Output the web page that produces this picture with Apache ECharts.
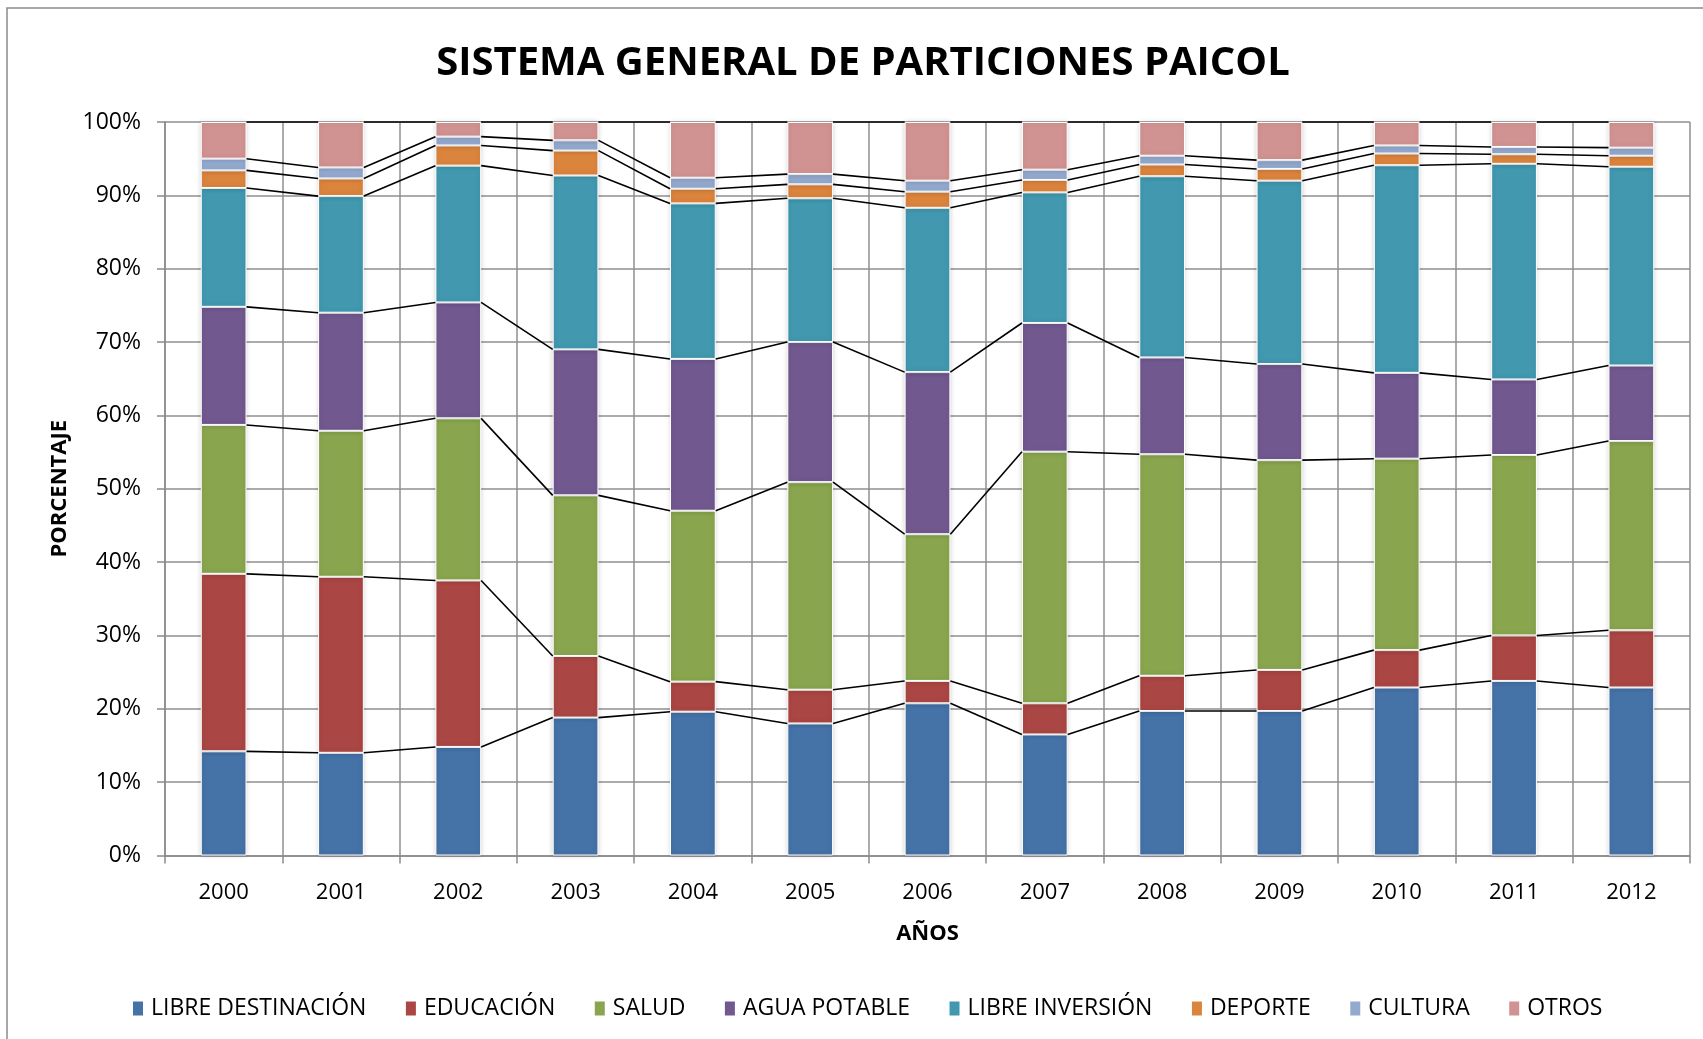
<!DOCTYPE html>
<html>
<head>
<meta charset="utf-8">
<title>Sistema General de Participaciones Paicol</title>
<script src="https://cdn.jsdelivr.net/npm/echarts@6/dist/echarts.min.js"></script>
<style>
  html, body { margin: 0; padding: 0; background: #ffffff; }
  #chart { width: 1703px; height: 1039px; }
</style>
</head>
<body>
<div id="chart"></div>
<script>
// Years on the category axis
const years = ['2000', '2001', '2002', '2003', '2004', '2005', '2006',
               '2007', '2008', '2009', '2010', '2011', '2012'];

// Share of each budget line per year (percent of the yearly total)
const libreDestinacion = [14.2, 14.0, 14.8, 18.8, 19.6, 18.0, 20.75, 16.5, 19.7, 19.7, 22.9, 23.8, 22.9];
const educacion        = [24.2, 24.0, 22.7, 8.4, 4.1, 4.6, 3.05, 4.25, 4.8, 5.6, 5.1, 6.2, 7.8];
const salud            = [20.3, 19.9, 22.1, 21.9, 23.3, 28.3, 20.0, 34.3, 30.2, 28.6, 26.1, 24.6, 25.8];
const aguaPotable      = [16.1, 16.1, 15.8, 19.9, 20.7, 19.1, 22.1, 17.55, 13.2, 13.1, 11.7, 10.3, 10.3];
const libreInversion   = [16.2, 15.9, 18.65, 23.7, 21.2, 19.6, 22.4, 17.8, 24.7, 25.0, 28.3, 29.4, 27.1];
const deporte          = [2.4, 2.4, 2.75, 3.4, 2.0, 1.9, 2.2, 1.7, 1.6, 1.6, 1.6, 1.3, 1.5];
const cultura          = [1.6, 1.5, 1.2, 1.4, 1.5, 1.4, 1.5, 1.4, 1.2, 1.2, 1.1, 1.0, 1.1];
const otros            = [5.0, 6.2, 2.0, 2.5, 7.6, 7.1, 8.0, 6.5, 4.6, 5.2, 3.2, 3.4, 3.5];

// Series names in stacking order (bottom to top)
const seriesNames = ['LIBRE DESTINACIÓN', 'EDUCACIÓN', 'SALUD', 'AGUA POTABLE',
                     'LIBRE INVERSIÓN', 'DEPORTE', 'CULTURA', 'OTROS'];

// Y axis tick labels
const yTicks = [0, 10, 20, 30, 40, 50, 60, 70, 80, 90, 100];

const seriesValues = [libreDestinacion, educacion, salud, aguaPotable,
                      libreInversion, deporte, cultura, otros];
const colors = ['#4572A7', '#AA4643', '#89A54E', '#71588F',
                '#4198AF', '#DB843D', '#93A9CF', '#D19392'];

// 100% stacking: each value as share of its year's total
const totals = years.map((_, i) => seriesValues.reduce((s, arr) => s + arr[i], 0));
const shares = seriesValues.map(arr => arr.map((v, i) => v / totals[i] * 100));

// Running tops of every stacked segment, used for the series lines
const tops = [];
shares.forEach((arr, k) => {
  tops.push(arr.map((v, i) => (k === 0 ? 0 : tops[k - 1][i]) + v));
});

const BAR_RATIO = 0.39;

// Connector segments from the top of one column's segment to the next column's
const connectorData = [];
tops.forEach(levels => {
  for (let i = 0; i < years.length - 1; i++) {
    connectorData.push([i, levels[i], levels[i + 1]]);
  }
});

const barSeries = seriesNames.map((name, k) => ({
  name: name,
  type: 'bar',
  stack: 'total',
  barWidth: (BAR_RATIO * 100) + '%',
  data: shares[k],
  itemStyle: {
    color: colors[k],
    borderColor: '#ffffff',
    borderWidth: 1,
    shadowBlur: 5,
    shadowColor: 'rgba(0,0,0,0.18)'
  },
  emphasis: { disabled: true }
}));

const connectorSeries = {
  name: 'connectors',
  type: 'custom',
  silent: true,
  z: 5,
  data: connectorData,
  encode: { x: 0, y: 1 },
  renderItem: function (params, api) {
    const i = api.value(0);
    const p0 = api.coord([i, api.value(1)]);
    const p1 = api.coord([i + 1, api.value(2)]);
    const half = api.size([1, 0])[0] * BAR_RATIO / 2;
    return {
      type: 'line',
      shape: { x1: p0[0] + half, y1: p0[1], x2: p1[0] - half, y2: p1[1] },
      style: { stroke: '#000000', lineWidth: 1.6 }
    };
  }
};

const chart = echarts.init(document.getElementById('chart'), null, { renderer: 'canvas' });

chart.setOption({
  animation: false,
  backgroundColor: '#ffffff',
  textStyle: { fontFamily: 'Open Sans', color: '#000000' },
  graphic: [
    {
      type: 'rect',
      silent: true,
      shape: { x: 7, y: 8, width: 1760, height: 1100 },
      style: { fill: 'none', stroke: '#8a8a8a', lineWidth: 1.5 }
    },
    {
      type: 'text',
      silent: true,
      style: {
        text: 'SISTEMA GENERAL DE PARTICIONES PAICOL',
        x: 863, y: 64,
        textAlign: 'center', textVerticalAlign: 'middle',
        font: 'bold 40px "Open Sans"',
        fill: '#000000'
      }
    }
  ],
  legend: {
    data: seriesNames,
    left: 126,
    top: 992,
    itemWidth: 12,
    itemHeight: 16,
    itemGap: 37.5,
    icon: 'rect',
    textStyle: { fontFamily: 'Open Sans', fontSize: 23, color: '#000000', padding: [0, 0, 0, 2] },
    selectedMode: false
  },
  grid: { left: 165, right: 13, top: 122, bottom: 183.5, containLabel: false },
  xAxis: {
    type: 'category',
    data: years,
    name: 'AÑOS',
    nameLocation: 'middle',
    nameGap: 67,
    nameTextStyle: { fontFamily: 'Open Sans', fontWeight: 'bold', fontSize: 22, color: '#000000' },
    axisLine: { lineStyle: { color: '#8a8a8a', width: 1.5 } },
    axisTick: { show: true, length: 8, lineStyle: { color: '#8a8a8a', width: 1.5 } },
    axisLabel: { fontFamily: 'Open Sans', fontSize: 22, color: '#000000', margin: 26 },
    splitLine: { show: true, lineStyle: { color: '#8f8f8f', width: 1.5 } }
  },
  yAxis: {
    type: 'value',
    min: 0,
    max: 100,
    interval: 10,
    name: 'PORCENTAJE',
    nameLocation: 'middle',
    nameRotate: 90,
    nameGap: 94,
    nameTextStyle: { fontFamily: 'Open Sans', fontWeight: 'bold', fontSize: 22, color: '#000000' },
    axisLine: { show: true, lineStyle: { color: '#8a8a8a', width: 1.5 } },
    axisTick: { show: true, length: 8, lineStyle: { color: '#8a8a8a', width: 1.5 } },
    axisLabel: {
      fontFamily: 'Open Sans', fontSize: 23, color: '#000000', margin: 24,
      formatter: function (v) { return yTicks.indexOf(v) >= 0 ? v + '%' : ''; }
    },
    splitLine: { show: true, lineStyle: { color: '#8f8f8f', width: 1.5 } }
  },
  series: barSeries.concat([connectorSeries])
});
</script>
</body>
</html>
